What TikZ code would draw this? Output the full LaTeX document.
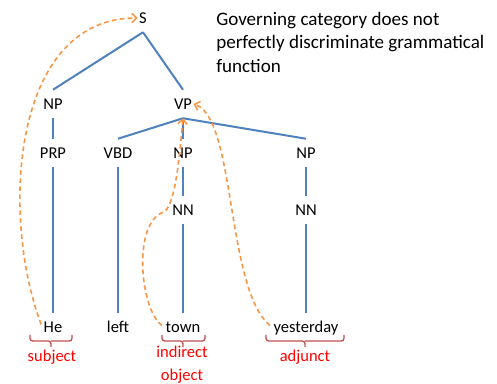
\documentclass[tikz,border=0pt]{standalone}
\usepackage{fontspec}
\setmainfont{Carlito}
\usetikzlibrary{arrows.meta}
\definecolor{treeblue}{HTML}{4F81BD}
\definecolor{roleorange}{HTML}{F79646}
\definecolor{bracered}{HTML}{C0504D}

\begin{document}
\begin{tikzpicture}[x=0.75pt, y=-0.75pt,
          cat/.style={font=\fontsize{12.4}{15}\selectfont, text height=8pt, text depth=0pt, inner xsep=1pt, inner ysep=6.5pt},
          fn/.style={font=\fontsize{12.4}{17.25}\selectfont, text=red, align=center, inner sep=0pt},
          branch/.style={draw=treeblue, line width=1.5pt},
          role/.style={draw=roleorange, line width=1.2pt, dash pattern=on 3.5pt off 2.5pt, shorten <=2pt, -{Straight Barb[length=3.5pt,width=7pt]}},
          brc/.style={draw=bracered, line width=1pt, rounded corners=2pt},
        ]
          \useasboundingbox (0,0) rectangle (497,384);

          \node[cat] (s) at (143,18) {S};
          \node[cat] (np) at (53,104) {NP};
          \node[cat] (vp) at (183,104) {VP};
          \node[cat] (prp) at (53,153) {PRP};
          \node[cat] (vbd) at (118,153) {VBD};
          \node[cat] (npio) at (183,153) {NP};
          \node[cat] (npadj) at (306,153) {NP};
          \node[cat] (nnio) at (183,210) {NN};
          \node[cat] (nnadj) at (306,210) {NN};
          \node[cat] (he) at (53,327) {He};
          \node[cat] (left) at (118,327) {left};
          \node[cat] (town) at (183,327) {town};
          \node[cat] (yesterday) at (306,327) {yesterday};

          \node[font=\fontsize{14.3}{17.6}\selectfont, align=left, anchor=north west, inner sep=0pt] (note) at (216,12)
            {Governing category does not\\perfectly discriminate grammatical\\function};

          % tree
          \draw[branch] (s.south) -- (np.north);
          \draw[branch] (s.south) -- (vp.north);
          \draw[branch] (vp.south) -- (vbd.north);
          \draw[branch] (vp.south) -- (npio.north);
          \draw[branch] (vp.south) -- (npadj.north);
          \draw[branch] (np.south) -- (prp.north);
          \draw[branch] (prp.south) -- (he.north);
          \draw[branch] (vbd.south) -- (left.north);
          \draw[branch] (npio.south) -- (nnio.north);
          \draw[branch] (nnio.south) -- (town.north);
          \draw[branch] (npadj.south) -- (nnadj.north);
          \draw[branch] (nnadj.south) -- (yesterday.north);

          % grammatical functions
          \draw[brc] (30,335) |- (51,341) -- (51,347) (51,341) -| (72,335);
          \draw[brc] (162,335) |- (183,341) -- (183,347) (183,341) -| (205,335);
          \draw[brc] (266,335) |- (305,341) -- (305,347) (305,341) -| (344,335);
          \node[fn] (subj) at (52,357) {subject};
          \node[fn] (iobj) at (182,365) {indirect\\object};
          \node[fn] (adj) at (305,357) {adjunct};

          % dashed arrows
          \draw[role] (he.west) .. controls (0,215) and (12,18) .. (s.west);
          \draw[role] (town.west) .. controls (140,310) and (132,222) .. (164,212)
                                  .. controls (176,204) and (180,150) .. (vp.south);
          \draw[role] (yesterday.west) .. controls (226,290) and (236,118) .. (vp.east);
        \end{tikzpicture}
\end{document}
